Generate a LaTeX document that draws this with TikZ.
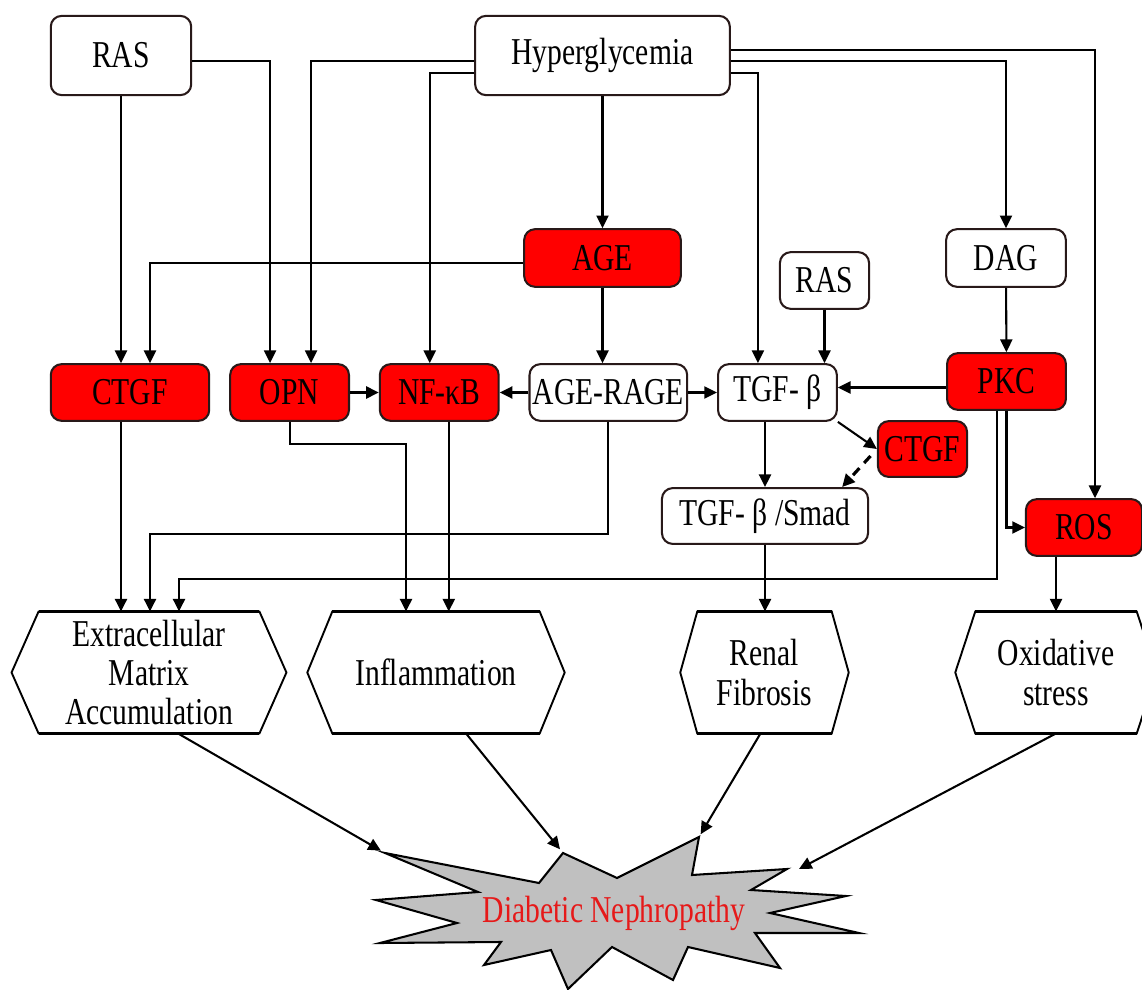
\documentclass[tikz,border=0pt]{standalone}
\usepackage{fontspec}
\setmainfont{Liberation Serif}[FakeStretch=0.78]
\usepackage{tikz}
\usetikzlibrary{
    arrows.meta,
    positioning,
    calc
}
\definecolor{PathRed}{RGB}{255,0,0}
\definecolor{EdgeDark}{RGB}{40,25,25}
\definecolor{BurstGray}{RGB}{192,192,192}
\definecolor{LabelRed}{RGB}{230,25,25}

\begin{document}
\begin{tikzpicture}[
    x=0.1111mm, y=-0.1111mm,
    font=\fontsize{12}{12.4}\selectfont,
    node distance=0.32cm,
    whitebox/.style={
        draw=EdgeDark,
        rounded corners=1.2mm,
        fill=white,
        minimum height=0.63cm,
        inner sep=1pt,
        line width=0.65pt
    },
    redbox/.style={
        whitebox,
        fill=PathRed
    },
    outcome/.style={
        minimum height=1.34cm,
        align=center,
        inner sep=0pt
    },
    arrow/.style={
        -{Triangle[length=4pt,width=3.8pt]},
        line width=0.65pt
    },
    dasharrow/.style={
        arrow,
        dash pattern=on 3pt off 2.2pt,
        line width=1pt
    },
    hexline/.style={
        line width=0.6pt
    },
    burst/.style={
        draw,
        fill=BurstGray,
        line width=0.65pt
    }
]
\useasboundingbox (0,0) rectangle (1142,990);
%
\node[whitebox, minimum width=1.56cm, minimum height=0.88cm] (ras1) at (121,55.5) {RAS};
\node[whitebox, minimum width=2.83cm, minimum height=0.88cm] (hyper) at (602.5,55.5) {Hyperglycemia};
%
\node[redbox, minimum width=1.74cm, minimum height=0.64cm] (age) at (602.5,258) {AGE};
\node[whitebox, minimum width=0.99cm] (ras2) at (824.5,280.5) {RAS};
\node[whitebox, minimum width=1.33cm, minimum height=0.64cm] (dag) at (1006,258) {DAG};
%
\node[redbox, minimum width=1.76cm] (ctgf1) at (130,392.5) {CTGF};
\node[redbox, minimum width=1.32cm, right=0.21cm of ctgf1] (opn) {OPN};
\node[redbox, minimum width=1.32cm, right=of opn] (nfkb) {NF-κB};
\node[whitebox, minimum width=1.74cm, right=of nfkb] (agerage) {AGE-RAGE};
\node[whitebox, minimum width=1.32cm, right=of agerage] (tgf) {TGF- β};
\node[redbox, minimum width=1.32cm] (pkc) at (1006.5,381.5) {PKC};
%
\node[redbox, minimum width=0.99cm, minimum height=0.62cm] (ctgf2) at (922.5,449) {CTGF};
\node[whitebox, minimum width=2.29cm, minimum height=0.62cm] (smad) at (765,516) {TGF- β /Smad};
\node[redbox, minimum width=1.29cm] (ros) at (1084,527.5) {ROS};
%
\node[outcome, minimum width=2.44cm] (ecm) at (149,672.5) {Extracellular\\Matrix\\Accumulation};
\node[outcome, minimum width=2.29cm] (infl) at (436,672.5) {Inflammation};
\node[outcome, minimum width=1.48cm] (renal) at (764.5,672.5) {Renal\\Fibrosis};
\node[outcome, minimum width=1.78cm] (oxid) at (1056,672.5) {Oxidative\\stress};
%
\foreach \n/\d in {ecm/27, infl/25, renal/17, oxid/20}{
    \draw[hexline] (\n.north west) -- (\n.north east) -- ($(\n.east)+(\d,0)$)
        -- (\n.south east) -- (\n.south west) -- ($(\n.west)+(-\d,0)$) -- cycle;
    \draw[line width=1.1pt] (\n.north west) -- (\n.north east)
        (\n.south west) -- (\n.south east);
}
%
\draw[burst] (385,853) coordinate (tipA) -- (539,883) -- (563,853) coordinate (tipB)
    -- (617,878) -- (699,837) coordinate (tipC) -- (692,875) -- (787,869) coordinate (tipD)
    -- (751,890) -- (846,896) -- (770,913) -- (859,933) -- (755,933) -- (780,968)
    -- (688,947) -- (673,980) -- (612,947) -- (568,989) -- (551,950) -- (484,965)
    -- (501,942) -- (380,943) -- (457,923) -- (376,900) -- (478,892) -- cycle;
\node[text=LabelRed] (dn) at (614,913) {Diabetic Nephropathy};
%
\draw[arrow] (ras1.south) -- (ras1.south |- ctgf1.north);
\draw[arrow] ($(ras1.east)+(0,5.5)$) -| ($(opn.north)+(-19.5,0)$);
\draw[arrow] ($(hyper.west)+(0,5.5)$) -| ($(opn.north)+(21.5,0)$);
\draw[arrow] ($(hyper.west)+(0,17.5)$) -| ($(nfkb.north)+(-9.5,0)$);
\draw[arrow] (hyper) -- (age);
\draw[arrow] ($(hyper.east)+(0,17.5)$) -| ($(tgf.north)+(-19.5,0)$);
\draw[arrow] ($(hyper.east)+(0,5.5)$) -| (dag.north);
\draw[arrow] ($(hyper.east)+(0,-5.5)$) -| ($(ros.north)+(11,0)$);
%
\draw[arrow] ($(age.west)+(0,5)$) -| ($(ctgf1.north)+(20,0)$);
\draw[arrow] (age.south) -- (age.south |- agerage.north);
\draw[arrow] (ras2.south) -- (ras2.south |- tgf.north);
\draw[arrow] (dag) -- (pkc);
%
\draw[arrow] (opn) -- (nfkb);
\draw[arrow] (agerage) -- (nfkb);
\draw[arrow] (agerage) -- (tgf);
\coordinate (pkcw) at ($(pkc.west)+(0,6)$);
\draw[arrow] (pkcw) -- (pkcw -| tgf.east);
\draw[arrow] (tgf.south east) -- (ctgf2.west);
\draw[arrow] (tgf.south -| smad.north) -- (smad.north);
\draw[dasharrow, shorten <=3pt] (ctgf2.west) -- ($(smad.north east)+(-27,0)$);
\draw[arrow] (pkc.south) |- (ros.west);
%
\draw[arrow] ($(pkc.south)+(-9.5,0)$) -- ++(0,168) -| ($(ecm.north)+(30,0)$);
\draw[arrow] (agerage.south) -- ++(0,112) -| ($(ecm.north)+(1,0)$);
\draw[arrow] ($(ctgf1.south)+(-9,0)$) -- ($(ecm.north)+(-28,0)$);
\draw[arrow] (opn.south) -- ++(0,22) -| ($(infl.north)+(-30,0)$);
\coordinate (nfkbs) at ($(nfkb.south)+(9.5,0)$);
\draw[arrow] (nfkbs) -- (nfkbs |- infl.north);
\draw[arrow] (smad) -- (smad.south |- renal.north);
\draw[arrow] ($(ros.south)+(-28,0)$) -- (oxid.north);
%
\draw[arrow, shorten >=1.5pt] ($(ecm.south)+(29,0)$) -- (tipA);
\draw[arrow, shorten >=1.5pt] ($(infl.south)+(30,0)$) -- (tipB);
\draw[arrow, shorten >=1pt] ($(renal.south)+(-4,0)$) -- (tipC);
\draw[arrow] (oxid.south) -- ($(tipD)+(12,0)$);
%
\end{tikzpicture}
\end{document}
